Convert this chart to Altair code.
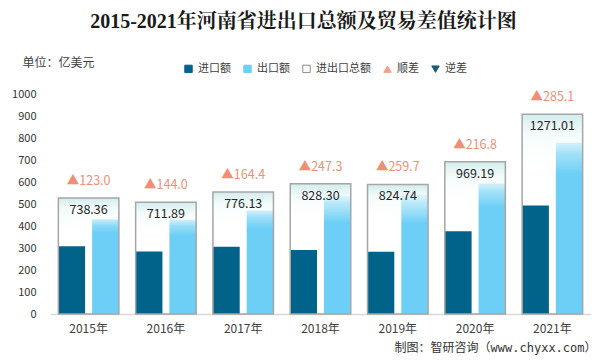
import altair as alt
import pandas as pd

years = ["2015年", "2016年", "2017年", "2018年", "2019年", "2020年", "2021年"]
imports = [307.7, 284.0, 305.9, 290.5, 282.5, 376.2, 493.0]
exports = [430.7, 427.9, 470.3, 537.8, 542.2, 593.0, 778.1]
totals = [738.36, 711.89, 776.13, 828.30, 824.74, 969.19, 1271.01]
diffs = [123.0, 144.0, 164.4, 247.3, 259.7, 216.8, 285.1]
y_ticks = [0, 100, 200, 300, 400, 500, 600, 700, 800, 900, 1000]
legend_items = ["进口额", "出口额", "进出口总额", "顺差", "逆差"]

FONT = "Noto Sans CJK SC"
C_IMP = "#01628a"
C_EXP = "#6dcff6"
C_DIFF = "#f08f76"

bars_df = pd.DataFrame({
    "year": years * 2,
    "type": ["进口额"] * len(years) + ["出口额"] * len(years),
    "value": imports + exports,
})
tot_df = pd.DataFrame({"year": years, "total": totals, "diff": diffs})
tot_df["total_label"] = [f"{v:.2f}" for v in totals]
tot_df["diff_label"] = [("▲" if d >= 0 else "▼") + f"{abs(d):.1f}" for d in diffs]
leg_df = pd.DataFrame({"item": legend_items})

x_scale = alt.Scale(domain=years, paddingInner=0.217, paddingOuter=0.108)
x_axis = alt.Axis(
    title="制图：智研咨询（www.chyxx.com）",
    titleX=546, titleY=33, titleAlign="right", titleBaseline="middle",
    titleFont="DejaVu Sans Mono, Noto Sans CJK SC", titleFontSize=12,
    titleFontWeight="normal", titleColor="#333333",
    labelAngle=0, labelFont=FONT, labelFontSize=12, labelColor="#404040",
    labelPadding=9, ticks=False, domainColor="#d9d9d9", domainWidth=1.5, grid=False,
)
x_enc = alt.X("year:N", sort=years, scale=x_scale, axis=x_axis)
xoff = alt.XOffset("type:N", scale=alt.Scale(domain=["进口额", "出口额"], paddingInner=0.207, paddingOuter=0))

y_main_scale = alt.Scale(domain=[0, 1000], nice=False)
y_sec_scale = alt.Scale(domain=[0, 1400], nice=False)

y_axis = alt.Axis(
    values=y_ticks, format="d", grid=False, ticks=False, domain=False,
    labelFont=FONT, labelFontSize=11, labelColor="#333333", labelPadding=14,
    title="单位：亿美元", titleAngle=0, titleX=-28, titleY=-32,
    titleAlign="left", titleBaseline="middle", titleFont=FONT,
    titleFontSize=12, titleFontWeight="normal", titleColor="#404040",
)

imp = alt.Chart(bars_df).transform_filter(alt.datum.type == "进口额").mark_bar(color=C_IMP).encode(
    x=x_enc, xOffset=xoff,
    y=alt.Y("value:Q", scale=y_main_scale, axis=y_axis),
)

exp_grad = alt.Gradient(
    gradient="linear", x1=0, y1=0, x2=0, y2=1,
    stops=[alt.GradientStop(offset=0, color="#a3e0f8"),
           alt.GradientStop(offset=0.06, color=C_EXP),
           alt.GradientStop(offset=1, color=C_EXP)],
)
exp = alt.Chart(bars_df).transform_filter(alt.datum.type == "出口额").mark_bar(color=exp_grad).encode(
    x=x_enc, xOffset=xoff,
    y=alt.Y("value:Q", scale=y_main_scale, axis=None),
)

box_grad = alt.Gradient(
    gradient="linear", x1=0, y1=0, x2=0, y2=1,
    stops=[alt.GradientStop(offset=0, color="rgba(210,236,236,1)"),
           alt.GradientStop(offset=0.1, color="rgba(240,250,250,0.75)"),
           alt.GradientStop(offset=0.3, color="rgba(255,255,255,0)"),
           alt.GradientStop(offset=1, color="rgba(255,255,255,0)")],
)
box = alt.Chart(tot_df).mark_bar(color=box_grad, stroke="#a6a6a6", strokeWidth=1.5).encode(
    x=x_enc,
    y=alt.Y("total:Q", scale=y_sec_scale, axis=None),
)

tot_text = alt.Chart(tot_df).mark_text(
    font=FONT, fontSize=12.5, color="#262626", baseline="middle", dy=12
).encode(
    x=x_enc,
    y=alt.Y("total:Q", scale=y_sec_scale, axis=None),
    text="total_label:N",
)

diff_text = alt.Chart(tot_df).mark_text(
    font=FONT, fontSize=12.5, color=C_DIFF, baseline="middle", dy=-17
).encode(
    x=x_enc,
    y=alt.Y("total:Q", scale=y_sec_scale, axis=None),
    text="diff_label:N",
)

legend = alt.Legend(
    title=None, orient="none", legendX=133, legendY=-31, direction="horizontal",
    columns=5, columnPadding=10, symbolSize=55, symbolStrokeWidth=1,
    labelFont=FONT, labelFontSize=11, labelColor="#404040", labelOffset=4,
)
leg = alt.Chart(leg_df).mark_point(filled=True, clip=True, opacity=1).encode(
    x=alt.value(-200), y=alt.value(-200),
    fill=alt.Fill("item:N", sort=legend_items,
                  scale=alt.Scale(domain=legend_items,
                                  range=[C_IMP, C_EXP, "#ffffff", "#f4a189", "#1c5b78"]),
                  legend=legend),
    stroke=alt.Stroke("item:N", sort=legend_items,
                      scale=alt.Scale(domain=legend_items,
                                      range=[C_IMP, C_EXP, "#8c8c8c", "#f4a189", "#1c5b78"]),
                      legend=legend),
    shape=alt.Shape("item:N", sort=legend_items,
                    scale=alt.Scale(domain=legend_items,
                                    range=["square", "square", "square", "triangle-up", "triangle-down"]),
                    legend=legend),
)

chart = alt.layer(imp, exp, box, tot_text, diff_text, leg).resolve_scale(
    y="independent"
).properties(
    width=541, height=220,
    padding={"left": 42, "top": 86, "right": 7, "bottom": 41},
    autosize=alt.AutoSizeParams(type="none"),
    background="white",
    title=alt.TitleParams(
        text="2015-2021年河南省进出口总额及贸易差值统计图",
        font="Liberation Serif, Noto Serif CJK SC, Noto Sans CJK SC",
        fontSize=20, fontWeight="bold", color="#1a1a1a",
        anchor="middle", baseline="middle", offset=0, dx=-17, dy=-14,
    ),
).configure_view(stroke=None)

chart.save("out.html", embed_options={"renderer": "svg", "actions": False})
